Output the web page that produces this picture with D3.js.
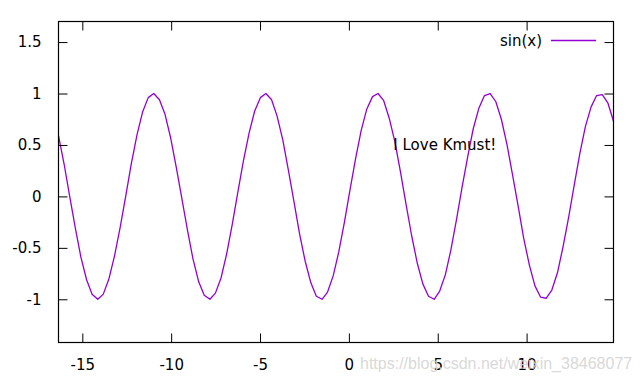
<!DOCTYPE html>
<html><head><meta charset="utf-8">
<script src="https://cdn.jsdelivr.net/npm/d3@7"></script>
<style>body{margin:0;background:#fff}svg{display:block}</style>
</head><body>
<svg id="c" width="640" height="384"></svg>
<script>
const xs = [-16.34,-16.02,-15.71,-15.39,-15.08,-14.76,-14.45,-14.13,-13.82,-13.50,
-13.19,-12.87,-12.55,-12.24,-11.92,-11.61,-11.29,-10.98,-10.66,-10.35,
-10.03,-9.72,-9.40,-9.08,-8.77,-8.45,-8.14,-7.82,-7.51,-7.19,
-6.88,-6.56,-6.25,-5.93,-5.61,-5.30,-4.98,-4.67,-4.35,-4.04,
-3.72,-3.41,-3.09,-2.78,-2.46,-2.14,-1.83,-1.51,-1.20,-0.88,
-0.57,-0.25,0.06,0.38,0.69,1.01,1.33,1.64,1.96,2.27,
2.59,2.90,3.22,3.53,3.85,4.16,4.48,4.80,5.11,5.43,
5.74,6.06,6.37,6.69,7.00,7.32,7.63,7.95,8.27,8.58,
8.90,9.21,9.53,9.84,10.16,10.47,10.79,11.10,11.42,11.74,
12.05,12.37,12.68,13.00,13.31,13.63,13.94,14.26,14.57,14.89];
const ys = [0.59,0.31,0.00,-0.31,-0.59,-0.81,-0.95,-1.00,-0.95,-0.80,
-0.58,-0.30,0.01,0.32,0.60,0.82,0.96,1.00,0.94,0.80,
0.57,0.29,-0.02,-0.33,-0.61,-0.83,-0.96,-1.00,-0.94,-0.79,
-0.56,-0.27,0.04,0.35,0.62,0.83,0.96,1.00,0.94,0.78,
0.55,0.26,-0.05,-0.36,-0.63,-0.84,-0.97,-1.00,-0.93,-0.77,
-0.54,-0.25,0.06,0.37,0.64,0.85,0.97,1.00,0.93,0.76,
0.53,0.24,-0.08,-0.38,-0.65,-0.85,-0.97,-1.00,-0.92,-0.76,
-0.52,-0.22,0.09,0.39,0.66,0.86,0.98,1.00,0.92,0.75,
0.50,0.21,-0.10,-0.41,-0.67,-0.87,-0.98,-0.99,-0.91,-0.74,
-0.49,-0.20,0.11,0.42,0.68,0.87,0.98,0.99,0.91,0.73];
const xTicks = [-15,-10,-5,0,5,10];
const yTicks = [-1,-0.5,0,0.5,1,1.5];
const xDomain = [-16.34, 14.89];
const yDomain = [-1.42, 1.70];
const seriesName = "sin(x)";
const labelText = "I Love Kmust!";
const labelPos = [2.5, 0.5];
const watermark = "https://blog.csdn.net/weixin_38468077";

const svg = d3.select("#c");
const L=58.5, R=613.5, T=21.5, B=342.5;
const x = d3.scaleLinear().domain(xDomain).range([L,R]);
const y = d3.scaleLinear().domain(yDomain).range([B,T]);
const font = "DejaVu Sans, Verdana, sans-serif";
const col = "#9400d3";
const fmt = d => String(d);

// curve
svg.append("path")
  .datum(d3.zip(xs, ys))
  .attr("fill","none").attr("stroke",col).attr("stroke-width",1.3)
  .attr("stroke-linejoin","round")
  .attr("d", d3.line().x(d=>x(d[0])).y(d=>y(d[1])));

// axes (ticks inward, mirrored)
const tl = 9;
const ax = svg.append("g").attr("transform",`translate(0,${B})`)
  .call(d3.axisBottom(x).tickValues(xTicks).tickSize(-tl).tickPadding(tl+8).tickFormat(fmt));
const axT = svg.append("g").attr("transform",`translate(0,${T})`)
  .call(d3.axisTop(x).tickValues(xTicks).tickSize(-tl).tickFormat(""));
const ay = svg.append("g").attr("transform",`translate(${L},0)`)
  .call(d3.axisLeft(y).tickValues(yTicks).tickSize(-tl).tickPadding(tl+8).tickFormat(fmt));
const ayR = svg.append("g").attr("transform",`translate(${R},0)`)
  .call(d3.axisRight(y).tickValues(yTicks).tickSize(-tl).tickFormat(""));
[ax,axT,ay,ayR].forEach(g=>{
  g.select(".domain").remove();
  g.selectAll("line").attr("stroke","#000").attr("stroke-width",1);
  g.selectAll("text").attr("font-family",font).attr("font-size",15).attr("fill","#000");
});
ax.selectAll("text").attr("dy","0.71em");

// border
svg.append("rect").attr("x",L).attr("y",T).attr("width",R-L).attr("height",B-T)
  .attr("fill","none").attr("stroke","#000").attr("stroke-width",1.2);

// legend
svg.append("text").attr("x",542).attr("y",46).attr("text-anchor","end")
  .attr("font-family",font).attr("font-size",15).attr("fill","#000").text(seriesName);
svg.append("line").attr("x1",551).attr("x2",596).attr("y1",40.5).attr("y2",40.5)
  .attr("stroke",col).attr("stroke-width",1.3);

// label
svg.append("text").attr("x",x(labelPos[0])).attr("y",y(labelPos[1])).attr("dy","0.35em")
  .attr("font-family",font).attr("font-size",15).attr("fill","#000").text(labelText);

// watermark (light, drawn beneath nothing but overlapping the axis labels as in the source)
svg.append("text").attr("x",360).attr("y",369)
  .attr("font-family","Liberation Sans, Arial, sans-serif").attr("font-size",16)
  .attr("fill","#d4d4d4").attr("fill-opacity",0.9).text(watermark);
</script>
</body></html>
